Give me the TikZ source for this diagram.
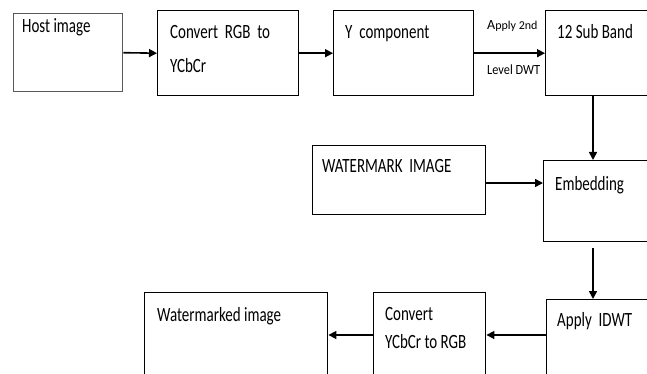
\documentclass[tikz,border=0pt]{standalone}
\usepackage{fontspec}
\usepackage{graphicx}
\setmainfont{Carlito}
\usetikzlibrary{arrows.meta}
\newcommand{\tall}[1]{\scalebox{1}[1.35]{#1}}
\begin{document}
\begin{tikzpicture}[x=1pt,y=-1pt,
  box/.style={draw,line width=1.4pt,anchor=north west,inner sep=0pt},
  lbl/.style={anchor=north west,inner sep=0pt,align=left,font=\fontsize{15}{34}\selectfont},
  arr/.style={line width=1.6pt,-{Triangle[length=8pt,width=8pt]}}]
\useasboundingbox (0,0) rectangle (647,374);
\clip (0,0) rectangle (647,374);
\node[box,draw=black!65,minimum width=109pt,minimum height=78pt,label={[lbl,xshift=9pt,yshift=-5pt]north west:\tall{Host image}}] (host) at (13,13) {};
\node[box,minimum width=141pt,minimum height=85pt,label={[lbl,xshift=13pt,yshift=-15pt]north west:{\tall{Convert~ RGB~ to}\\\tall{YCbCr}}}] (rgb) at (157,10) {};
\node[box,minimum width=140pt,minimum height=85pt,label={[lbl,xshift=12pt,yshift=-15pt]north west:\tall{Y~ component}}] (ycomp) at (333,10) {};
\node[box,minimum width=125pt,minimum height=85pt,label={[lbl,xshift=12pt,yshift=-14pt]north west:\tall{12 Sub Band}}] (sub) at (545,10) {};
\node[box,minimum width=173pt,minimum height=69pt,label={[lbl,xshift=10pt,yshift=-14pt]north west:\tall{WATERMARK~ IMAGE}}] (wm) at (312,145) {};
\node[box,minimum width=125pt,minimum height=81pt,label={[lbl,xshift=12pt,yshift=-16pt]north west:\tall{Embedding}}] (embed) at (543,160) {};
\node[box,minimum width=125pt,minimum height=95pt,label={[lbl,xshift=11pt,yshift=-13pt]north west:\tall{Apply~ IDWT}}] (idwt) at (546,299) {};
\node[box,minimum width=112pt,minimum height=100pt,label={[lbl,font=\fontsize{15}{28}\selectfont,xshift=12pt,yshift=-15pt]north west:{\tall{Convert}\\\tall{YCbCr to RGB}}}] (conv) at (373,292) {};
\node[box,minimum width=183pt,minimum height=100pt,label={[lbl,xshift=13pt,yshift=-15pt]north west:\tall{Watermarked image}}] (wmd) at (144,292) {};
\node[anchor=base west,inner sep=0pt] (apl) at (487,30) {\fontsize{14}{14}\selectfont A\fontsize{12}{12}\selectfont pply 2nd};
\node[anchor=base west,inner sep=0pt] (lvl) at (487,75) {\scalebox{0.88}[1]{\fontsize{14}{14}\selectfont Level DWT}};
\coordinate (cx) at (593,0);
\coordinate (ry) at (0,183);
\coordinate (rb) at (0,335);
\draw[arr] (host.east) -- (rgb.west);
\draw[arr] (rgb.east) -- (ycomp.west);
\draw[arr] (ycomp.east) -- (sub.west);
\draw[arr] (sub.south -| cx) -- (embed.north -| cx);
\draw[arr] (wm.east |- ry) -- (embed.west |- ry);
\draw[arr,shorten <=6pt] (embed.south -| cx) -- (idwt.north -| cx);
\draw[arr] (idwt.west |- rb) -- (conv.east |- rb);
\draw[arr] (conv.west |- rb) -- (wmd.east |- rb);
\end{tikzpicture}
\end{document}
